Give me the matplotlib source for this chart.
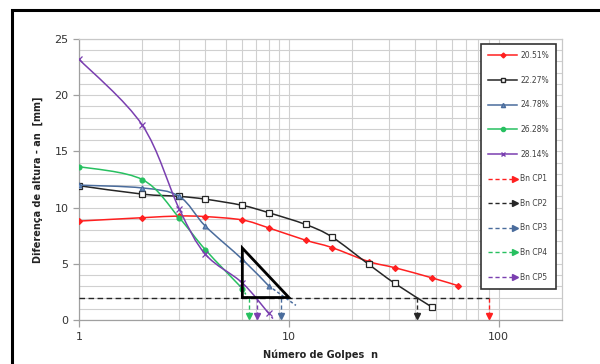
import numpy as np
import matplotlib.pyplot as plt
from matplotlib.lines import Line2D
from matplotlib.path import Path
from matplotlib.patches import Rectangle, Polygon, PathPatch
from matplotlib.ticker import FixedLocator, NullFormatter
from matplotlib.legend_handler import HandlerBase

# blows (n) and height difference an [mm] for each water content
x_red = [1, 2, 3, 4, 6, 8, 12, 16, 24, 32, 48, 64]
y_red = [8.8, 9.1, 9.25, 9.2, 8.9, 8.2, 7.1, 6.45, 5.2, 4.65, 3.75, 3.05]
x_blk = [1, 2, 3, 4, 6, 8, 12, 16, 24, 32, 48]
y_blk = [11.95, 11.2, 11.0, 10.75, 10.2, 9.55, 8.5, 7.4, 4.95, 3.25, 1.15]
x_blu = [1, 2, 3, 4, 6, 8]
y_blu = [12.0, 11.75, 11.0, 8.35, 5.4, 3.05]
x_grn = [1, 2, 3, 4, 6]
y_grn = [13.65, 12.5, 9.1, 6.25, 2.8]
x_pur = [1, 2, 3, 4, 6, 8]
y_pur = [23.2, 17.35, 9.9, 5.85, 3.3, 0.6]

# trend extensions below the last point
ext_blu = ([8, 10.8], [3.05, 1.3])
ext_grn = ([6, 6.4], [2.8, 1.9])
ext_pur = ([8, 8.5], [0.6, 0.0])

# blows at an = 2 mm (Bn)
an_ref = 2.0
bn = [89.6, 40.7, 9.2, 6.45, 7.05]

tri_x = [6, 6, 10]
tri_y = [2, 6.4, 2]

labels = ['20.51%', '22.27%', '24.78%', '26.28%', '28.14%']
bn_labels = ['Bn CP1', 'Bn CP2', 'Bn CP3', 'Bn CP4', 'Bn CP5']
colors = ['#ff2020', '#262626', '#4a6c9c', '#27c060', '#7a3fb0']
markers = ['D', 's', '^', 'o', 'x']
mfc = ['#ff2020', 'white', '#6d8fc0', '#27c060', '#7a3fb0']
msz = [3, 4, 3.5, 3.5, 4]


class MarkerAt(HandlerBase):
    """line across the handle box with one marker at a fraction of its length"""
    def __init__(self, pos):
        super().__init__()
        self.pos = pos

    def create_artists(self, legend, orig, xdescent, ydescent, width, height,
                       fontsize, trans):
        y = height / 2 - ydescent
        x0 = -xdescent
        line = Line2D([x0, x0 + width], [y, y])
        line.update_from(orig)
        line.set_marker('None')
        mk = Line2D([x0 + width * self.pos], [y])
        mk.update_from(orig)
        mk.set_linestyle('None')
        line.set_transform(trans)
        mk.set_transform(trans)
        return [line, mk]


def smooth_path(xs, ys):
    # Excel-like smoothed line: cubic Bezier through the points, built in log-x space
    lx = np.log10(xs)
    y = np.asarray(ys, float)
    verts = [(xs[0], y[0])]
    codes = [Path.MOVETO]
    n = len(lx)
    for i in range(n - 1):
        i0, i3 = max(i - 1, 0), min(i + 2, n - 1)
        c1 = (lx[i] + (lx[i + 1] - lx[i0]) / 6, y[i] + (y[i + 1] - y[i0]) / 6)
        c2 = (lx[i + 1] - (lx[i3] - lx[i]) / 6, y[i + 1] - (y[i3] - y[i]) / 6)
        verts += [(10**c1[0], c1[1]), (10**c2[0], c2[1]), (xs[i + 1], y[i + 1])]
        codes += [Path.CURVE4] * 3
    return Path(verts, codes)


fig = plt.figure(figsize=(6, 3.64), dpi=100)
ax = fig.add_axes([79/600, 1-320/364, 483/600, 281/364])

ax.set_xscale('log')
series = [(x_red, y_red), (x_blk, y_blk), (x_blu, y_blu), (x_grn, y_grn), (x_pur, y_pur)]
for (xs, ys), c, m, fc, ms in zip(series, colors, markers, mfc, msz):
    ax.add_patch(PathPatch(smooth_path(xs, ys), fill=False, ec=c, lw=1.1, zorder=4))
    ax.plot(xs, ys, ls='none', marker=m, ms=ms, mfc=fc, mec=c, mew=0.9, zorder=4)

ax.plot(*ext_blu, color=colors[2], lw=1.1, ls=(0, (2, 1.5)), zorder=4)
ax.plot(*ext_grn, color=colors[3], lw=1.1, ls=(0, (1.5, 1.5)), zorder=4)
ax.plot(*ext_pur, color=colors[4], lw=1.1, ls=(0, (1.5, 1.5)), zorder=4)

# Bn arrows: horizontal at an=2 then down to the axis
for b, c in zip(bn, colors):
    ax.plot([b, b], [an_ref, 0.35], color=c, lw=1, ls=(0, (3, 2)), zorder=3)
    ax.plot([b], [0.35], color=c, marker='v', ms=4, ls='none', zorder=3)
ax.plot([1, bn[0]], [an_ref, an_ref], color='#262626', lw=1, ls=(0, (4, 2.5)), zorder=3)

ax.add_patch(Polygon(list(zip(tri_x, tri_y)), closed=True, fill=False,
                     ec='black', lw=2, zorder=5))

ax.set_xlim(1, 200)
ax.set_ylim(0, 25)
ax.xaxis.set_major_locator(FixedLocator([1, 10, 100]))
ax.set_xticklabels(['1', '10', '100'])
minor_x = [k * 10**e for e in range(0, 2) for k in range(2, 10)]
ax.xaxis.set_minor_locator(FixedLocator(minor_x))
ax.xaxis.set_minor_formatter(NullFormatter())
ax.set_yticks([0, 5, 10, 15, 20, 25])
ax.yaxis.set_minor_locator(FixedLocator(np.arange(0, 26, 1)))
ax.grid(True, which='both', color='#d0d0d0', lw=0.8)
ax.set_axisbelow(True)
ax.tick_params(which='major', length=4, color='#a0a0a0', labelsize=8,
               labelcolor='#333333', width=0.9)
ax.tick_params(axis='x', which='major', length=5, pad=4)
ax.tick_params(which='minor', length=0)
for s in ax.spines.values():
    s.set_color('#c8c8c8')
    s.set_linewidth(0.9)
ax.spines['left'].set_color('#a0a0a0')
ax.spines['bottom'].set_color('#a0a0a0')

ax.set_ylabel('Diferença de altura - an  [mm]', fontsize=7, fontweight='bold',
              color='#222222', labelpad=8)
ax.set_xlabel('Número de Golpes  n', fontsize=7, fontweight='bold',
              color='#222222', labelpad=5)

# legend with proxy handles
handles = []
hmap = {}
for c, m, fc, ms in zip(colors, markers, mfc, msz):
    h = Line2D([], [], color=c, lw=1.1, marker=m, ms=ms - 0.5, mfc=fc, mec=c)
    handles.append(h)
    hmap[h] = MarkerAt(0.5)
for c in colors:
    h = Line2D([], [], color=c, lw=1, ls=(0, (3, 2)), marker='>', ms=4)
    handles.append(h)
    hmap[h] = MarkerAt(0.92)
leg = ax.legend(handles, labels + bn_labels, loc='upper right', handler_map=hmap,
                bbox_to_anchor=((556-79)/483, (320-44)/281), borderaxespad=0,
                fontsize=5.5, labelspacing=2.05, handlelength=3.8,
                handletextpad=0.4, borderpad=0.9, fancybox=False, framealpha=1,
                edgecolor='#333333')
leg.get_frame().set_linewidth(1.2)
leg.set_zorder(6)
for t in leg.get_texts():
    t.set_color('#404040')

fig.add_artist(Rectangle((12/600, -0.1), 1.2, 1.1 - 10/364, transform=fig.transFigure,
                         fill=False, ec='black', lw=2.2))

fig.savefig('out.png', dpi=100)
